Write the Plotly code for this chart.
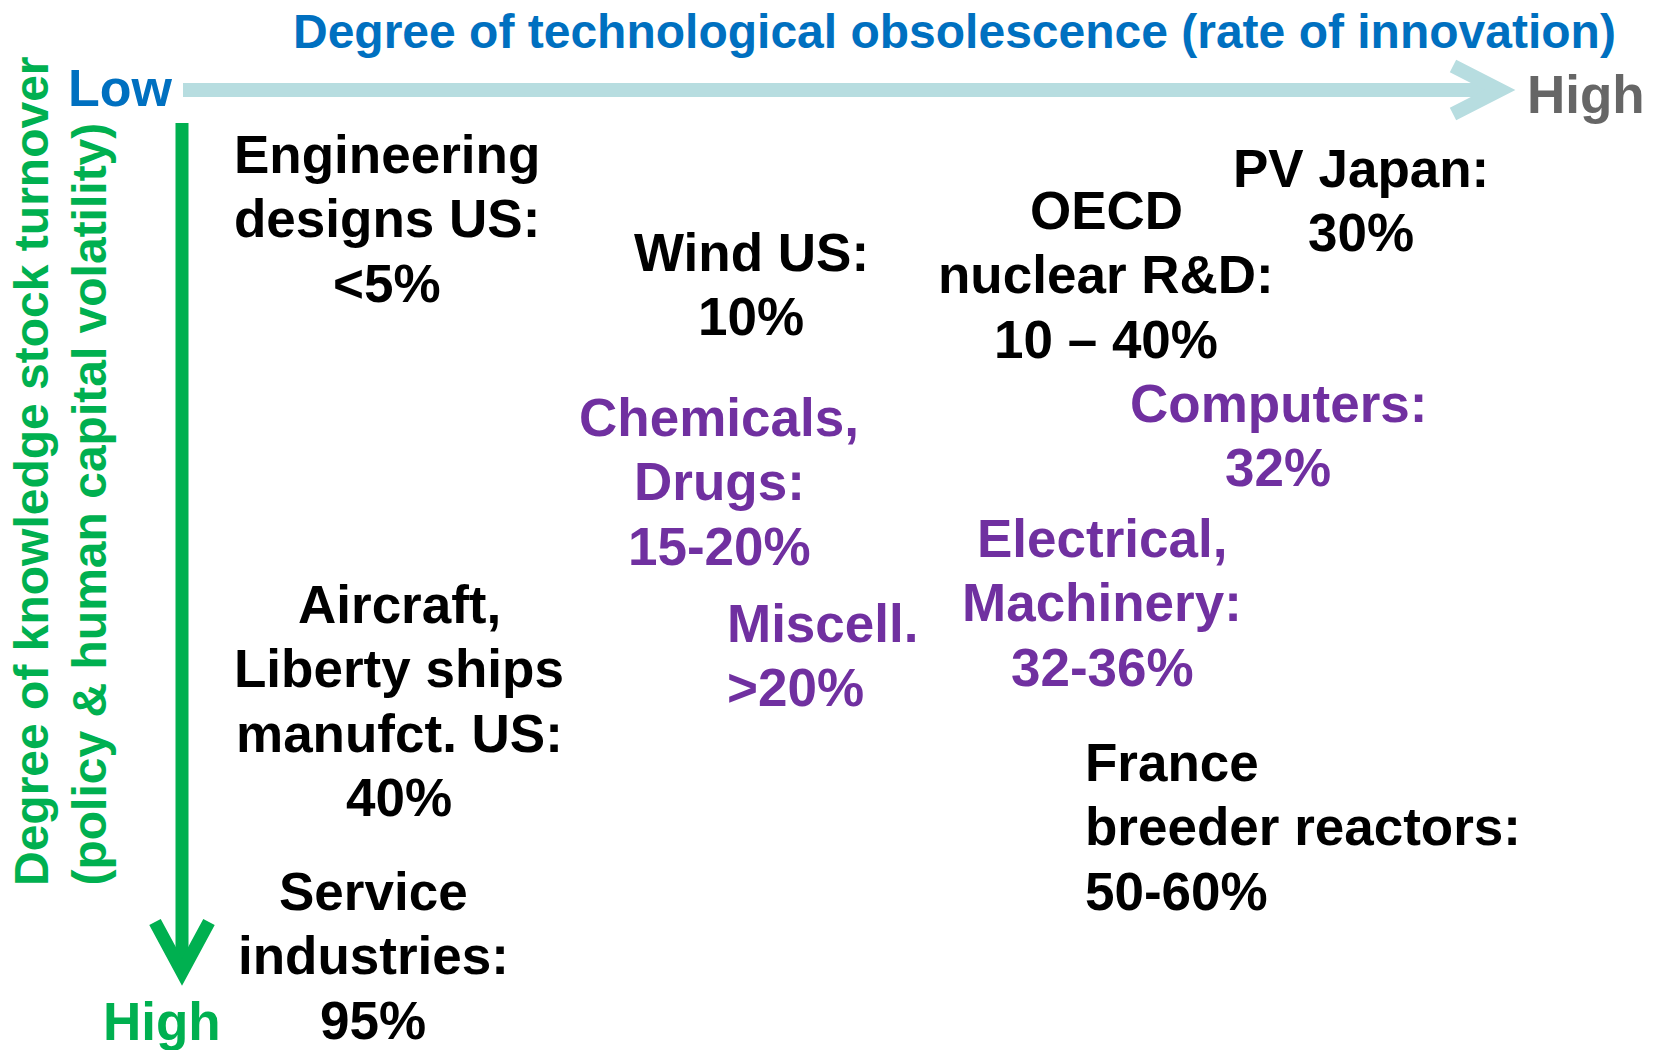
import html
import plotly.graph_objects as go

# canvas is laid out in pixels of the 1656x1050 page
W, H = 1656, 1050

# text blocks (one list of lines per block)
block_lines = [
    ["Engineering", "designs US:", "<5%"],
    ["Wind US:", "10%"],
    ["OECD", "nuclear R&D:", "10 – 40%"],
    ["PV Japan:", "30%"],
    ["Chemicals,", "Drugs:", "15-20%"],
    ["Computers:", "32%"],
    ["Electrical,", "Machinery:", "32-36%"],
    ["Miscell.", ">20%"],
    ["Aircraft,", "Liberty ships", "manufct. US:", "40%"],
    ["Service", "industries:", "95%"],
    ["France", "breeder reactors:", "50-60%"],
]
block_kind = ["other", "other", "other", "other", "industry", "industry",
              "industry", "industry", "other", "other", "other"]

x_title = "Degree of technological obsolescence (rate of innovation)"
x_low, x_high = "Low", "High"
y_title = ["Degree of knowledge stock turnover",
           "(policy & human capital volatility)"]
y_high = "High"

# placement of each block: anchor x, centre of first line, alignment
block_x = [387, 751, 1106, 1361, 719, 1278, 1102, 725, 399, 373, 1083]
block_y = [154, 252, 210, 168, 417, 403, 538, 623, 604, 891, 762]
block_anchor = ["center", "center", "center", "center", "center", "center",
                "center", "left", "center", "center", "left"]
LINE_STEP = 64.5

colors = {"other": "#000000", "industry": "#7030A0"}
BLUE = "#0070C0"
TEAL = "#B7DDE0"
GREY = "#666666"
GREEN = "#00B050"
FONT = "Liberation Sans, Arial, sans-serif"

fig = go.Figure()
annotations = []

for lines, kind, bx, by, anc in zip(block_lines, block_kind, block_x, block_y, block_anchor):
    for i, line in enumerate(lines):
        annotations.append(dict(
            x=bx, y=by + i * LINE_STEP, text=html.escape(line, quote=False),
            xanchor=anc, yanchor="middle", showarrow=False,
            font=dict(family=FONT, size=53, color=colors[kind], weight="bold")))

# axis labels
annotations.append(dict(x=954, y=31, text=x_title, showarrow=False,
                        xanchor="center", yanchor="middle",
                        font=dict(family=FONT, size=48, color=BLUE, weight="bold")))
annotations.append(dict(x=120, y=88, text=x_low, showarrow=False,
                        xanchor="center", yanchor="middle",
                        font=dict(family=FONT, size=52, color=BLUE, weight="bold")))
annotations.append(dict(x=1586, y=94, text=x_high, showarrow=False,
                        xanchor="center", yanchor="middle",
                        font=dict(family=FONT, size=53, color=GREY, weight="bold")))
annotations.append(dict(x=162, y=1021, text=y_high, showarrow=False,
                        xanchor="center", yanchor="middle",
                        font=dict(family=FONT, size=53, color=GREEN, weight="bold")))
for i, t in enumerate(y_title):
    annotations.append(dict(x=31 + i * 58, y=888, text=html.escape(t, quote=False),
                            textangle=-90, showarrow=False,
                            xanchor="center", yanchor="bottom",
                            font=dict(family=FONT, size=48, color=GREEN, weight="bold")))

shapes = [
    # horizontal arrow
    dict(type="line", x0=183, x1=1494, y0=90, y1=90,
         line=dict(color=TEAL, width=14)),
    dict(type="path", path="M 1453 66 L 1500 90 L 1453 114",
         line=dict(color=TEAL, width=14)),
    # vertical arrow
    dict(type="line", x0=182, x1=182, y0=123, y1=968,
         line=dict(color=GREEN, width=13)),
    dict(type="path", path="M 155 922 L 182 972 L 209 922",
         line=dict(color=GREEN, width=13)),
]

fig.update_layout(
    width=W, height=H,
    margin=dict(l=0, r=0, t=0, b=0),
    paper_bgcolor="white", plot_bgcolor="white",
    xaxis=dict(range=[0, W], visible=False, fixedrange=True),
    yaxis=dict(range=[H, 0], visible=False, fixedrange=True),
    annotations=annotations,
    shapes=shapes,
    showlegend=False,
)

# drop the default body margin so the figure sits at the page corner
fig.write_html("out.html", config={"displayModeBar": False},
               post_script="document.body.style.margin = '0';")
